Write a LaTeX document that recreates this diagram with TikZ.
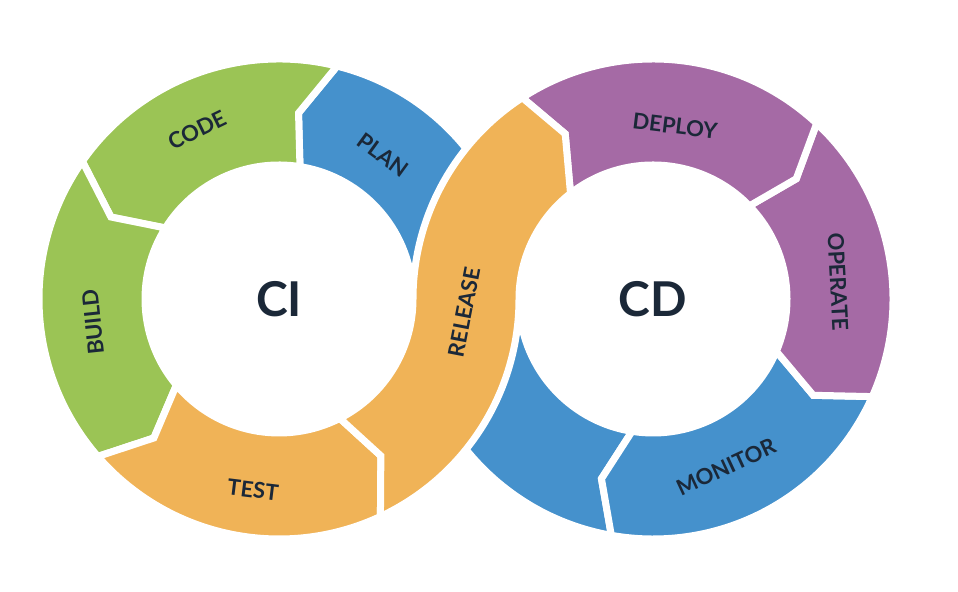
\documentclass[tikz,border=0pt]{standalone}
\usepackage{fontspec}
\setmainfont{Lato}
\usepackage{tikz}
\usetikzlibrary{calc}
\definecolor{cigreen}{HTML}{9BC455}
\definecolor{ciblue}{HTML}{4591CC}
\definecolor{ciorange}{HTML}{F0B357}
\definecolor{cipurple}{HTML}{A56AA5}
\definecolor{ciink}{HTML}{1B2838}

\begin{document}
\begin{tikzpicture}[x=0.5pt, y=0.5pt,
  seg/.style={draw=white, line width=3.5pt},
  lbl/.style={font=\fontsize{11}{13}\selectfont\bfseries, text=ciink, inner sep=0pt},
  big/.style={font=\fontsize{24}{28}\selectfont\bfseries, text=ciink, inner sep=0pt}]
\useasboundingbox (0,0) rectangle (958,592);
\coordinate (ci) at (279,293);
\coordinate (cd) at (653,293);

% CI ring
\path[seg, fill=ciblue] ([shift={(0:240)}]ci) arc[start angle=0, end angle=76, radius=240]
  -- ([shift={(84:187)}]ci) -- ([shift={(81:134)}]ci)
  arc[start angle=81, end angle=0, radius=134] -- cycle;
\path[seg, fill=cigreen] ([shift={(76:240)}]ci) arc[start angle=76, end angle=145, radius=240]
  -- ([shift={(154:187)}]ci) -- ([shift={(148:134)}]ci)
  arc[start angle=148, end angle=81, radius=134] -- ([shift={(84:187)}]ci) -- cycle;
\path[seg, fill=cigreen] ([shift={(145:240)}]ci) arc[start angle=145, end angle=221, radius=240]
  -- ([shift={(228:187)}]ci) -- ([shift={(220:134)}]ci)
  arc[start angle=220, end angle=148, radius=134] -- ([shift={(154:187)}]ci) -- cycle;
\path[seg, fill=ciorange] ([shift={(221:240)}]ci) arc[start angle=221, end angle=295, radius=240]
  -- ([shift={(303:187)}]ci) -- ([shift={(297:134)}]ci)
  arc[start angle=297, end angle=220, radius=134] -- ([shift={(228:187)}]ci) -- cycle;

% CD ring
\path[seg, fill=ciblue] ([shift={(-100:240)}]cd) arc[start angle=-100, end angle=-180, radius=240]
  -- ([shift={(-180:134)}]cd)
  arc[start angle=-180, end angle=-99, radius=134] -- ([shift={(-106:187)}]cd) -- cycle;
\path[seg, fill=ciblue] ([shift={(-24:240)}]cd) arc[start angle=-24, end angle=-100, radius=240]
  -- ([shift={(-106:187)}]cd) -- ([shift={(-99:134)}]cd)
  arc[start angle=-99, end angle=-23, radius=134] -- ([shift={(-31:187)}]cd) -- cycle;
\path[seg, fill=cipurple] ([shift={(47:240)}]cd) arc[start angle=47, end angle=-24, radius=240]
  -- ([shift={(-31:187)}]cd) -- ([shift={(-23:134)}]cd)
  arc[start angle=-23, end angle=44, radius=134] -- ([shift={(40:187)}]cd) -- cycle;
\path[seg, fill=cipurple] ([shift={(123:240)}]cd) arc[start angle=123, end angle=47, radius=240]
  -- ([shift={(40:187)}]cd) -- ([shift={(44:134)}]cd)
  arc[start angle=44, end angle=128, radius=134] -- ([shift={(118:187)}]cd) -- cycle;

% release band, over both rings
\path[seg, fill=ciorange] ([shift={(295:240)}]ci) arc[start angle=295, end angle=360, radius=240]
  arc[start angle=180, end angle=128, radius=134]
  -- ([shift={(118:187)}]cd) -- ([shift={(123:240)}]cd)
  arc[start angle=123, end angle=180, radius=240]
  arc[start angle=360, end angle=297, radius=134]
  -- ([shift={(303:187)}]ci) -- cycle;

\node[big] (ci-txt) at (ci) {CI};
\node[big] (cd-txt) at (cd) {CD};
\node[lbl, rotate=26]  (code)    at (197,462) {CODE};
\node[lbl, rotate=-36] (plan)    at (383,437) {PLAN};
\node[lbl, rotate=96]  (build)   at (93,270)  {BUILD};
\node[lbl, rotate=-7]  (test)    at (253,102) {TEST};
\node[lbl, rotate=79]  (release) at (464,280) {RELEASE};
\node[lbl, rotate=-7]  (deploy)  at (675,466) {DEPLOY};
\node[lbl, rotate=-87] (operate) at (838,310) {OPERATE};
\node[lbl, rotate=25]  (monitor) at (726,125) {MONITOR};
\end{tikzpicture}
\end{document}
